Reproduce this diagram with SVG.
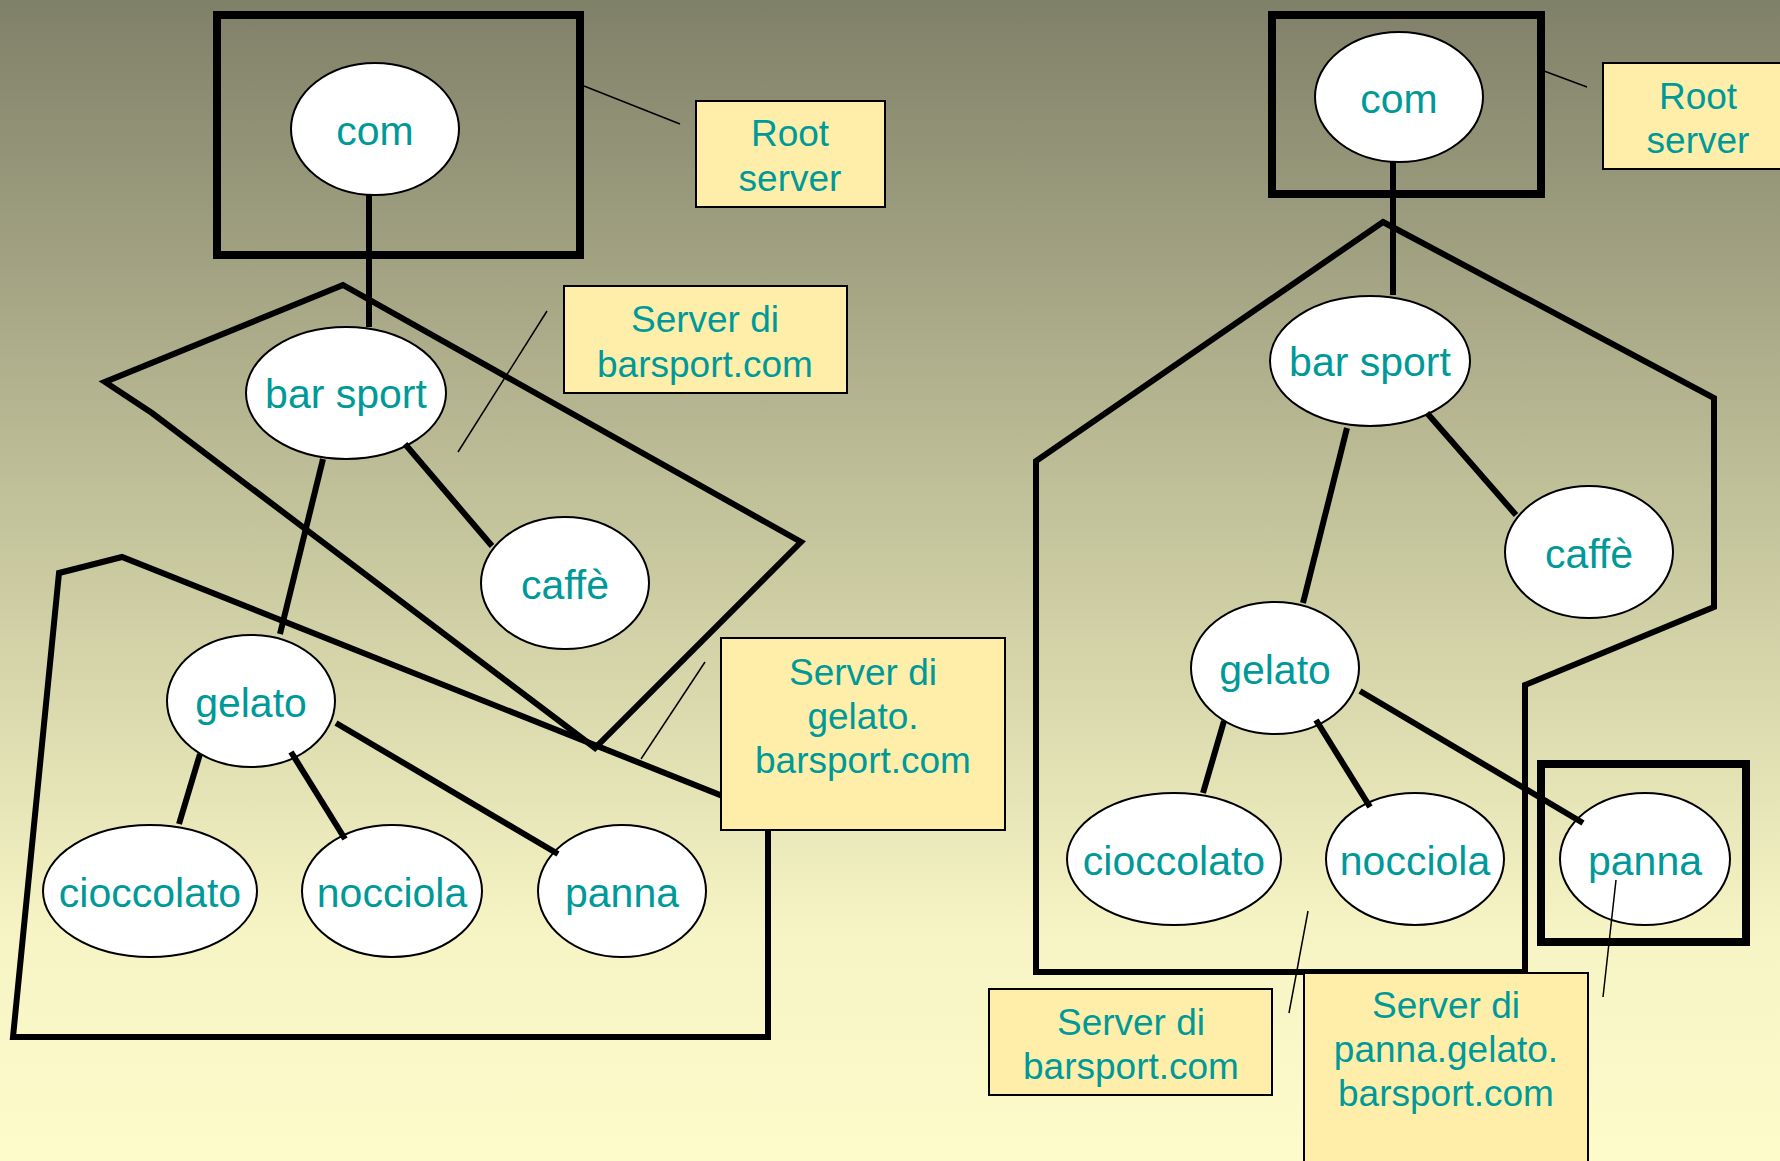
<svg xmlns="http://www.w3.org/2000/svg" width="1780" height="1161" viewBox="0 0 1780 1161">
<defs>
<linearGradient id="bg" x1="0" y1="0" x2="0" y2="1">
<stop offset="0" stop-color="#7f8068"/>
<stop offset="0.45" stop-color="#c4c49c"/>
<stop offset="0.8" stop-color="#f6f4c4"/>
<stop offset="1" stop-color="#fdfbca"/>
</linearGradient>
<style>
.zone{fill:none;stroke:#000;stroke-width:6;stroke-linejoin:miter}
.zrect{fill:none;stroke:#000;stroke-width:8}
.edge{stroke:#000;stroke-width:6;fill:none}
.lead{stroke:#000;stroke-width:1.5;fill:none}
.node ellipse{fill:#fff;stroke:#000;stroke-width:2}
.node text{font-family:"Liberation Sans",Arial,sans-serif;font-size:41px;fill:#009999;text-anchor:middle}
.box rect{fill:#ffeeaa;stroke:#000;stroke-width:2}
.box text{font-family:"Liberation Sans",Arial,sans-serif;font-size:37px;fill:#009999;text-anchor:middle}
</style>
</defs>
<rect x="0" y="0" width="1780" height="1161" fill="url(#bg)"/>

<g id="zones">
<rect class="zrect" x="217" y="15" width="363" height="240"/>
<polygon class="zone" points="343,285 105,382 152,413 595,748 801,542"/>
<polygon class="zone" points="13,1037 59,573 122,557 768,814 768,1037"/>
<rect class="zrect" x="1272" y="15" width="269" height="179"/>
<polygon class="zone" points="1383,222 1714,398 1714,607 1525,685 1525,972 1036,972 1036,461"/>
<rect class="zrect" x="1541" y="764" width="205" height="178"/>
</g>

<g id="nodes">
<g id="L-com" class="node"><ellipse cx="375" cy="129" rx="84" ry="66"/><text x="375" y="145">com</text></g>
<g id="L-barsport" class="node"><ellipse cx="346" cy="393" rx="100" ry="66"/><text x="346" y="408">bar sport</text></g>
<g id="L-caffe" class="node"><ellipse cx="565" cy="583" rx="84" ry="66"/><text x="565" y="599">caffè</text></g>
<g id="L-gelato" class="node"><ellipse cx="251" cy="701" rx="84" ry="66"/><text x="251" y="717">gelato</text></g>
<g id="L-cioccolato" class="node"><ellipse cx="150" cy="891" rx="107" ry="66"/><text x="150" y="907">cioccolato</text></g>
<g id="L-nocciola" class="node"><ellipse cx="392" cy="891" rx="90" ry="66"/><text x="392" y="907">nocciola</text></g>
<g id="L-panna" class="node"><ellipse cx="622" cy="891" rx="84" ry="66"/><text x="622" y="907">panna</text></g>

<g id="R-com" class="node"><ellipse cx="1399" cy="97" rx="84" ry="65"/><text x="1399" y="113">com</text></g>
<g id="R-barsport" class="node"><ellipse cx="1370" cy="361" rx="100" ry="65"/><text x="1370" y="376">bar sport</text></g>
<g id="R-caffe" class="node"><ellipse cx="1589" cy="552" rx="84" ry="66"/><text x="1589" y="568">caffè</text></g>
<g id="R-gelato" class="node"><ellipse cx="1275" cy="668" rx="84" ry="66"/><text x="1275" y="684">gelato</text></g>
<g id="R-cioccolato" class="node"><ellipse cx="1174" cy="859" rx="107" ry="66"/><text x="1174" y="875">cioccolato</text></g>
<g id="R-nocciola" class="node"><ellipse cx="1415" cy="859" rx="89" ry="66"/><text x="1415" y="875">nocciola</text></g>
<g id="R-panna" class="node"><ellipse cx="1645" cy="859" rx="85" ry="66"/><text x="1645" y="875">panna</text></g>
</g>

<g id="connectors">
<line class="edge" x1="369" y1="195" x2="369" y2="327"/>
<line class="edge" x1="323" y1="459" x2="280" y2="634"/>
<line class="edge" x1="405" y1="444" x2="492" y2="546"/>
<line class="edge" x1="200" y1="754" x2="179" y2="824"/>
<line class="edge" x1="291" y1="752" x2="345" y2="839"/>
<line class="edge" x1="336" y1="723" x2="558" y2="854"/>

<line class="edge" x1="1393" y1="162" x2="1393" y2="295"/>
<line class="edge" x1="1347" y1="428" x2="1303" y2="603"/>
<line class="edge" x1="1427" y1="413" x2="1516" y2="515"/>
<line class="edge" x1="1224" y1="721" x2="1203" y2="793"/>
<line class="edge" x1="1316" y1="720" x2="1370" y2="807"/>
<line class="edge" x1="1360" y1="691" x2="1583" y2="823"/>
</g>

<g id="leaders">
<line class="lead" x1="584" y1="86" x2="680" y2="124"/>
<line class="lead" x1="547" y1="311" x2="458" y2="452"/>
<line class="lead" x1="705" y1="662" x2="641" y2="759"/>
<line class="lead" x1="1544" y1="71" x2="1587" y2="87"/>
<line class="lead" x1="1308" y1="911" x2="1289" y2="1013"/>
<line class="lead" x1="1616" y1="880" x2="1603" y2="997"/>
</g>

<g id="L-root-box" class="box"><rect x="696" y="101" width="189" height="106"/><text x="790" y="146">Root</text><text x="790" y="191">server</text></g>
<g id="L-barsport-box" class="box"><rect x="564" y="286" width="283" height="107"/><text x="705" y="332">Server di</text><text x="705" y="377">barsport.com</text></g>
<g id="L-gelato-box" class="box"><rect x="721" y="638" width="284" height="192"/><text x="863" y="685">Server di</text><text x="863" y="729">gelato.</text><text x="863" y="773">barsport.com</text></g>
<g id="R-root-box" class="box"><rect x="1603" y="63" width="189" height="106"/><text x="1698" y="109">Root</text><text x="1698" y="153">server</text></g>
<g id="R-barsport-box" class="box"><rect x="989" y="989" width="283" height="106"/><text x="1131" y="1035">Server di</text><text x="1131" y="1079">barsport.com</text></g>
<g id="R-panna-box" class="box"><rect x="1304" y="973" width="284" height="200"/><text x="1446" y="1018">Server di</text><text x="1446" y="1062">panna.gelato.</text><text x="1446" y="1106">barsport.com</text></g>
</svg>
